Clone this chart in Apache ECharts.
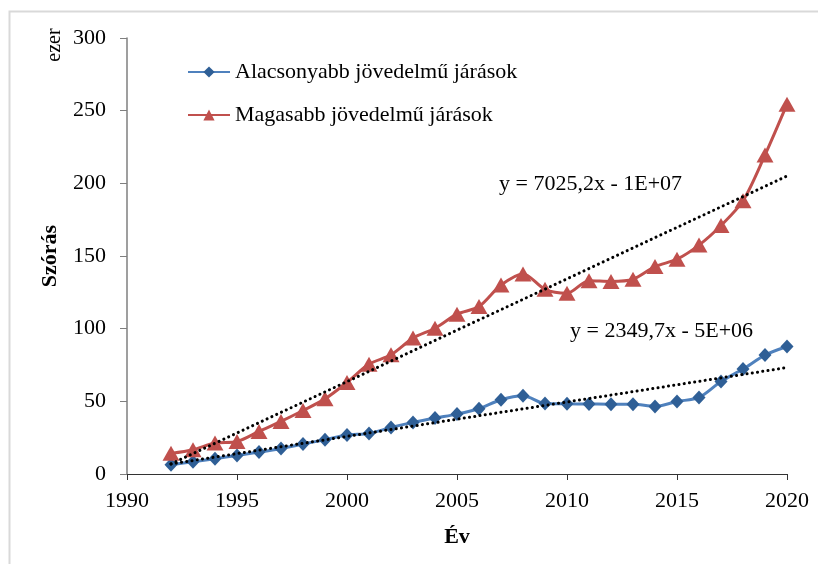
<!DOCTYPE html>
<html>
<head>
<meta charset="utf-8">
<script src="https://cdn.jsdelivr.net/npm/echarts@6/dist/echarts.min.js"></script>
<style>html,body{margin:0;padding:0;background:#fff}#c{width:818px;height:564px}</style>
</head>
<body>
<div id="c"></div>
<script>
const years = [1992,1993,1994,1995,1996,1997,1998,1999,2000,2001,2002,2003,2004,2005,2006,2007,2008,2009,2010,2011,2012,2013,2014,2015,2016,2017,2018,2019,2020];
const lowIncome = [6.4,8.5,10.5,12.8,15.1,17.6,20.6,23.6,26.8,27.9,32,35.5,38.5,41.2,44.9,51.1,53.8,48.5,48.3,48.2,48,48,46.5,49.9,52.7,63.7,72.2,81.8,87.7];
const highIncome = [14.2,16.7,21.3,22.4,29.3,36.2,43.7,51.7,63,75.6,82,93.5,100.3,110,115.2,130,137.7,127.1,124.4,133,132.5,134,142.7,147.8,157.5,171,188,219.5,254.5];
const lowName = 'Alacsonyabb jövedelmű járások';
const highName = 'Magasabb jövedelmű járások';
const lowEq = 'y = 2349,7x - 5E+06';
const highEq = 'y = 7025,2x - 1E+07';
const xTicks = {min:1990, max:2020, interval:5};
const yTicks = {min:0, max:300, interval:50};

function fit(xs, ys){
  const n = xs.length;
  let sx=0, sy=0, sxx=0, sxy=0;
  for(let i=0;i<n;i++){sx+=xs[i];sy+=ys[i];sxx+=xs[i]*xs[i];sxy+=xs[i]*ys[i];}
  const b=(n*sxy-sx*sy)/(n*sxx-sx*sx);
  const a=(sy-b*sx)/n;
  const x0=xs[0], x1=xs[n-1];
  return [[x0,a+b*x0],[x1,a+b*x1]];
}
const pair = (xs, ys) => xs.map((x,i)=>[x, ys[i]]);
const serif = '"Liberation Serif","DejaVu Serif",serif';

const chart = echarts.init(document.getElementById('c'));
chart.setOption({
  animation:false,
  backgroundColor:'#fff',
  grid:{left:127, right:31, top:38, bottom:90},
  legend:{
    data:[lowName, highName], orient:'vertical', left:182, top:56,
    itemWidth:42, itemHeight:14, itemGap:21,
    textStyle:{fontFamily:serif, fontSize:22, color:'#000'}
  },
  xAxis:{
    type:'value', min:xTicks.min, max:xTicks.max, interval:xTicks.interval,
    axisLine:{lineStyle:{color:'#333', width:1}},
    axisTick:{show:true, inside:false, length:6, lineStyle:{color:'#333'}},
    splitLine:{show:false},
    axisLabel:{fontFamily:serif, fontSize:22, color:'#000', margin:16, formatter:v=>String(v)},
    name:'Év', nameLocation:'middle', nameGap:52,
    nameTextStyle:{fontFamily:serif, fontSize:22, fontWeight:'bold', color:'#000'}
  },
  yAxis:{
    type:'value', min:yTicks.min, max:yTicks.max, interval:yTicks.interval,
    axisLine:{show:true, lineStyle:{color:'#7f7f7f', width:1.5}},
    axisTick:{show:true, inside:false, length:7, lineStyle:{color:'#7f7f7f'}},
    splitLine:{show:false},
    axisLabel:{fontFamily:serif, fontSize:22, color:'#000', margin:21, formatter:v=>String(v)},
    name:'Szórás', nameLocation:'middle', nameGap:66, nameRotate:90,
    nameTextStyle:{fontFamily:serif, fontSize:22, fontWeight:'bold', color:'#000'}
  },
  graphic:[
    {type:'rect', left:7, top:9, shape:{width:840, height:600}, style:{fill:'none', stroke:'#d9d9d9', lineWidth:2}, silent:true, z:-10},
    {type:'text', x:55, y:45, rotation:Math.PI/2, style:{text:'ezer', fontFamily:serif, fontSize:20, fill:'#000', align:'center', verticalAlign:'middle'}},
    {type:'text', x:499, y:184, style:{text:highEq, fontFamily:serif, fontSize:22, fill:'#000', verticalAlign:'middle'}},
    {type:'text', x:570, y:331, style:{text:lowEq, fontFamily:serif, fontSize:22, fill:'#000', verticalAlign:'middle'}}
  ],
  series:[
    {name:'trendLow', type:'line', data:fit(years, lowIncome), symbol:'none', silent:true, z:5,
     lineStyle:{color:'#000', width:3, type:[0.1,5.2], cap:'round'}},
    {name:'trendHigh', type:'line', data:fit(years, highIncome), symbol:'none', silent:true, z:5,
     lineStyle:{color:'#000', width:3, type:[0.1,5.2], cap:'round'}},
    {name:lowName, type:'line', data:pair(years, lowIncome), smooth:0.3,
     symbol:'diamond', symbolSize:[13,14], z:3,
     lineStyle:{color:'#4f81bd', width:3}, itemStyle:{color:'#2f5f96'}},
    {name:highName, type:'line', data:pair(years, highIncome), smooth:0.3,
     symbol:'triangle', symbolSize:[17,15], z:3,
     lineStyle:{color:'#c0504d', width:3}, itemStyle:{color:'#c0504d'}}
  ]
});
</script>
</body>
</html>
